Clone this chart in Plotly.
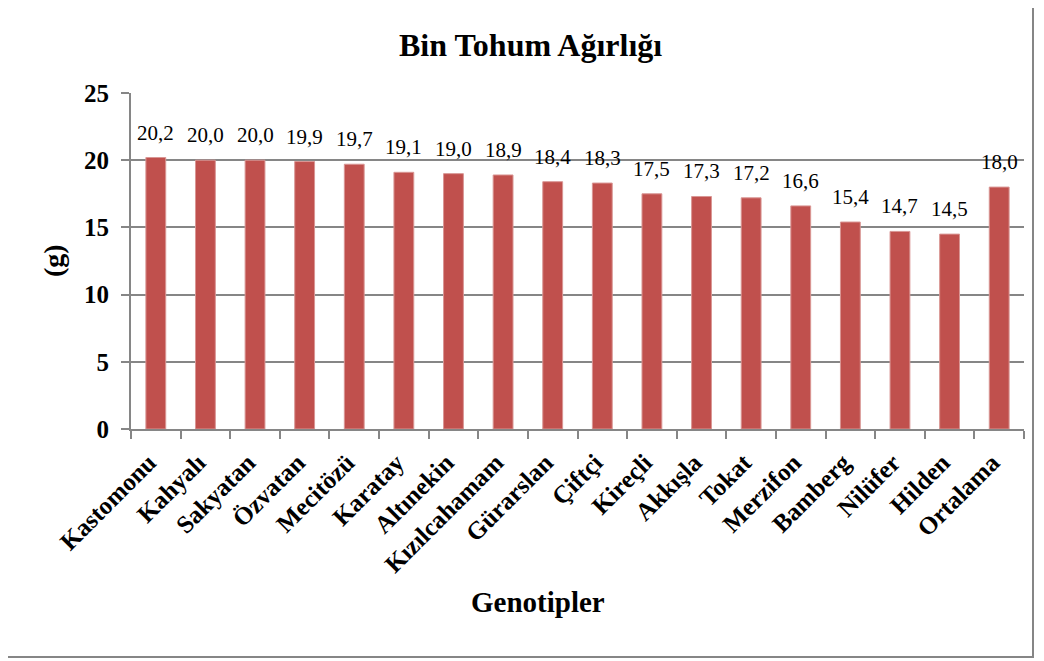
import plotly.graph_objects as go

genotipler = ['Kastomonu', 'Kahyalı', 'Sakyatan', 'Özvatan', 'Mecitözü', 'Karatay',
              'Altınekin', 'Kızılcahamam', 'Gürarslan', 'Çiftçi', 'Kireçli', 'Akkışla',
              'Tokat', 'Merzifon', 'Bamberg', 'Nilüfer', 'Hilden', 'Ortalama']
agirlik = [20.2, 20.0, 20.0, 19.9, 19.7, 19.1, 19.0, 18.9, 18.4, 18.3, 17.5, 17.3,
           17.2, 16.6, 15.4, 14.7, 14.5, 18.0]
y_ticks = [0, 5, 10, 15, 20, 25]

FONT = 'Liberation Serif'
GRAY = '#868686'

# page puts the figure 8px in from the top-left corner
OFF = 8
W, H = 1044, 661
# plot area, screen pixels
X0, X1, Y0, Y1 = 131, 1024, 93, 429
L, T = X0 - OFF, Y0 - OFF
R, B = W - (X1 - OFF), H - (Y1 - OFF)
pw, ph = X1 - X0, Y1 - Y0

def px_x(x):
    return (x - X0) / pw

def px_y(y):
    return (Y1 - y) / ph

fig = go.Figure(go.Bar(
    x=genotipler, y=agirlik,
    marker=dict(color='#C0504D', line=dict(color='#D99694', width=1)),
))

# data labels above bars
for g, v in zip(genotipler, agirlik):
    fig.add_annotation(x=g, y=v, text=f'{v:.1f}'.replace('.', ','),
                       showarrow=False, yanchor='bottom', yshift=11,
                       font=dict(family=FONT, size=21, color='black'))

fig.add_annotation(xref='paper', yref='paper', x=px_x(530), y=px_y(45),
                   text='<b>Bin Tohum Ağırlığı</b>', showarrow=False,
                   xanchor='center', yanchor='middle',
                   font=dict(family=FONT, size=32, color='black'))
fig.add_annotation(xref='paper', yref='paper', x=px_x(538), y=px_y(602),
                   text='<b>Genotipler</b>', showarrow=False,
                   xanchor='center', yanchor='middle',
                   font=dict(family=FONT, size=29, color='black'))
fig.add_annotation(xref='paper', yref='paper', x=px_x(53), y=0.5,
                   text='<b>(g)</b>', showarrow=False, textangle=-90,
                   xanchor='center', yanchor='middle',
                   font=dict(family=FONT, size=28, color='black'))

# outer chart border
fig.add_shape(type='rect', xref='paper', yref='paper',
              x0=px_x(6), x1=px_x(1033), y0=px_y(657), y1=px_y(4),
              line=dict(color=GRAY, width=2))

fig.update_layout(
    width=W, height=H,
    margin=dict(l=L, r=R, t=T, b=B, autoexpand=False),
    paper_bgcolor='white', plot_bgcolor='white',
    bargap=0.6, showlegend=False,
    xaxis=dict(showline=True, linecolor=GRAY, linewidth=2,
               ticks='outside', tickson='boundaries', ticklen=8,
               tickcolor=GRAY, tickwidth=2, tickangle=-45,
               ticklabelstandoff=7, ticklabelshift=-7,
               tickfont=dict(family=FONT, size=25, color='black', weight='bold')),
    yaxis=dict(range=[0, 25], tickvals=y_ticks, showline=True, linecolor=GRAY,
               linewidth=2, ticks='outside', ticklen=8, tickcolor=GRAY, tickwidth=2,
               showgrid=True, gridcolor=GRAY, gridwidth=2, zeroline=False,
               ticklabelstandoff=7,
               tickfont=dict(family=FONT, size=25, color='black', weight='bold')),
)

fig.write_html('out.html')
